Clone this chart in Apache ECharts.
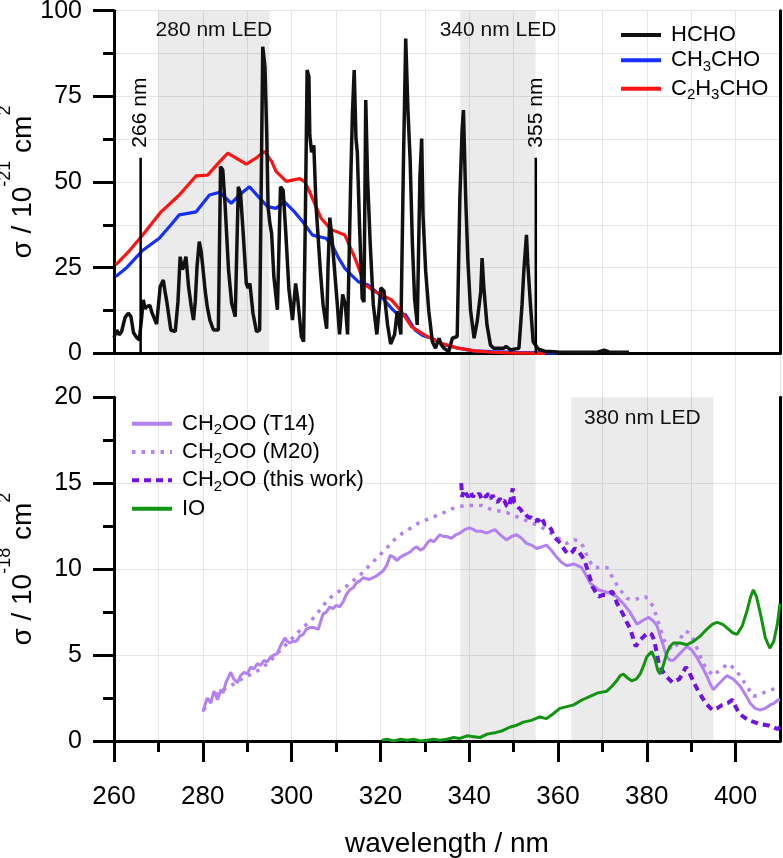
<!DOCTYPE html>
<html><head><meta charset="utf-8">
<script src="https://cdn.jsdelivr.net/npm/echarts@6/dist/echarts.min.js"></script>
<style>html,body{margin:0;padding:0;background:#fff}#c{width:783px;height:858px}</style>
</head><body><div id="c"></div>
<script>
// ---------- DATA ----------
const hcho = [[260.0,4.6],[260.6,6.8],[261.2,5.4],[261.7,6.3],[262.5,10.5],[263.2,11.7],[263.8,10.8],[264.4,6.0],[265.1,4.6],[265.7,3.9],[266.2,10],[266.6,15.6],[267.0,13.0],[267.4,13.6],[268.1,14.0],[268.5,12.0],[268.9,11.7],[269.6,8.5],[270.4,19.4],[271.1,21.4],[271.5,18],[271.9,15.0],[272.8,6.8],[273.8,6.3],[274.4,15],[274.9,28.2],[275.4,24.5],[275.7,25.3],[276.2,28.2],[276.8,19.4],[277.4,13.6],[277.9,9.7],[278.3,15],[278.7,25.3],[279.2,32.6],[279.6,30],[280.0,25.3],[280.5,18.6],[281.0,13.6],[281.6,9.7],[282.4,6.8],[283.5,6.8],[284.0,54.5],[284.5,53.5],[285.0,43.8],[285.4,34],[285.8,24.3],[286.5,14.6],[287.3,10.7],[288.0,48.6],[288.5,46.7],[289.1,35.0],[289.8,20.4],[290.2,19],[290.6,20.4],[291.3,11.7],[292.1,6.3],[292.8,6.8],[293.5,89.5],[294.0,83.6],[294.4,64.2],[294.7,42.8],[295.1,38],[295.5,35.0],[296.0,22.4],[296.8,12.7],[297.5,48.6],[298.1,47.6],[298.7,35.0],[299.4,18.6],[300.2,9.7],[300.9,20.4],[301.4,15.6],[302.2,4.9],[302.7,3.4],[303.1,40],[303.5,82.7],[303.9,80.7],[304.1,63.6],[304.5,58.7],[305.0,60.7],[305.5,43.2],[306.0,33.4],[306.5,23.7],[307.1,14.0],[307.9,7.2],[308.2,25],[308.6,39.6],[309.1,33.6],[309.7,23.9],[310.3,14.2],[310.8,5.5],[311.5,17.2],[312.1,14.2],[312.6,5.5],[313.3,49.6],[313.7,70],[314.1,82.7],[314.5,62.7],[314.8,58.7],[315.3,37.3],[315.9,16.0],[316.3,15.0],[316.7,73.9],[317.1,51.5],[317.7,32.1],[318.4,14.2],[319.2,5.5],[320.1,19.1],[320.8,18.2],[321.6,8.5],[322.3,2.7],[323.2,5.5],[323.8,12.3],[324.6,5.5],[325.2,56.4],[325.7,91.9],[326.2,71.0],[326.7,56.4],[327.2,32.1],[327.7,16.0],[328.3,8.3],[328.9,51.5],[329.3,62.7],[329.6,40.3],[330.2,23.9],[330.9,12.3],[331.7,3.4],[332.4,1.5],[333.2,4.4],[333.7,2.5],[334.3,1.5],[335.4,0.5],[336.2,4.4],[337.3,4.9],[337.9,45.7],[338.4,65],[338.7,71.0],[339.2,45.7],[339.7,27.2],[340.3,12.6],[341.1,4.4],[341.8,9.3],[342.6,18.0],[342.9,27.8],[343.3,19.1],[344.0,8.3],[344.8,2.4],[345.5,1.5],[347.8,1.5],[348.3,2.0],[349.3,1.0],[351.2,1.5],[351.9,14.2],[352.3,24.0],[352.9,34.6],[353.2,26.1],[353.8,14.2],[354.4,3.4],[355.6,1.2],[357,0.6],[360,0.4],[365,0.3],[369,0.4],[370.4,0.9],[371.5,0.4],[376,0.3]];

const ch3cho = [[260.4,22.4],[262.7,24.8],[266.5,30.1],[270.2,33.6],[272.5,37],[274.7,40.4],[278.5,41.3],[281.5,46.2],[283.8,47.0],[286.4,43.8],[288.5,46.5],[290.5,48.6],[292.8,45.3],[294.6,42.8],[296.5,42.3],[298.4,44.2],[300.5,41.5],[302.5,38.4],[304.7,34.5],[307.7,33.6],[309.2,31.5],[310.5,28],[312.0,24.8],[313.5,22.8],[315.0,20.9],[317.3,19.9],[319.9,17.0],[322.5,13.1],[324.4,10.7],[325.6,11.4],[327.8,6.8],[329.5,5.2],[331.5,4.4],[334,2.6],[337.5,1.5],[341,0.7],[345,0.5],[350,0.3],[355,0.2],[360,0.1]];

const c2h3cho = [[260.4,25.8],[263.5,30],[266.5,34.6],[270.6,41.3],[274.7,46.2],[278.5,51.8],[281.1,52.0],[283.5,55.5],[285.6,58.4],[287.5,57],[289.8,55.2],[292,57],[293.9,58.9],[295.5,56],[296.5,53.1],[298.8,50.2],[301.8,51.0],[303,50],[304.0,47.3],[306.6,39.5],[308.9,36.1],[310.5,35.3],[312.0,34.5],[314.3,27.7],[316.5,20.0],[318.8,18.0],[322.5,15.6],[324.8,12.1],[327.0,7.8],[330.0,5.3],[333.8,2.9],[337.5,1.5],[341.3,0.7],[345,0.3],[348.8,0.1],[357.1,0.0]];

const laserLines = [266, 355];
const laserHeight = 57.1;

const t14 = [[280.0,1.7],[280.5,2.1],[281.0,2.5],[281.8,2.2],[282.5,2.9],[283.3,2.4],[284.1,3.0],[284.6,2.8],[285.2,3.4],[286.3,4.0],[287.0,3.6],[287.8,3.4],[288.5,3.8],[289.3,4.0],[290.0,3.9],[290.8,4.3],[291.5,4.2],[292.3,4.5],[293.0,4.4],[293.8,4.7],[294.5,4.6],[295.3,4.9],[296.0,5.0],[296.8,5.1],[297.6,5.6],[298.5,6.0],[299.0,5.8],[299.6,5.7],[300.3,5.8],[301.1,5.8],[301.8,6.1],[302.6,6.2],[303.3,6.5],[304.1,6.6],[305.0,6.6],[306.0,6.5],[306.6,7.0],[307.1,7.4],[307.8,7.5],[308.6,7.8],[309.3,7.7],[310.1,7.9],[310.8,7.8],[311.6,8.1],[312.3,8.5],[313.1,8.8],[313.8,8.9],[314.6,9.2],[315.3,9.3],[316.1,9.5],[317.5,9.4],[319.1,9.6],[320.6,9.9],[321.4,10.2],[322.2,10.8],[323.0,10.7],[323.7,10.5],[324.5,10.7],[325.2,10.8],[326.0,10.9],[326.7,11.0],[327.5,11.2],[328.2,11.3],[329.0,11.1],[329.7,11.2],[330.5,11.5],[331.2,11.7],[332.0,11.6],[332.7,11.8],[333.4,12.0],[334.2,11.9],[334.9,11.9],[336.0,11.8],[337.0,12.0],[337.9,12.1],[339.0,12.3],[340.1,12.4],[341.0,12.3],[341.6,12.2],[342.8,12.2],[343.9,12.1],[344.8,12.2],[345.8,12.3],[347.0,12.0],[348.4,11.7],[349.5,11.9],[350.7,12.0],[351.8,11.8],[352.9,11.5],[354.0,11.4],[355.2,11.2],[356.3,11.3],[357.4,11.4],[358.5,11.1],[359.7,10.7],[360.8,10.4],[362.0,10.2],[363.5,10.3],[365.3,10.1],[366.2,9.7],[367.2,9.2],[368.2,9.0],[369.1,8.8],[370.4,8.7],[371.7,8.6],[373.2,8.4],[374.7,8.0],[376.2,7.5],[377.8,6.8],[379.0,7.0],[380.4,7.2],[381.4,7.0],[382.3,6.7],[383.4,5.8],[384.5,4.9],[385.2,4.7],[386.0,4.7],[387.5,5.1],[389.0,5.5],[390.1,5.3],[391.2,4.9],[392.3,4.4],[393.5,3.8],[394.3,3.3],[395.0,3.0],[396.5,3.4],[398.0,3.8],[399.5,3.6],[401.0,3.2],[402.2,2.7],[403.3,2.2],[404.4,1.9],[405.5,1.8],[406.7,1.9],[407.8,2.1],[408.7,2.2],[409.6,2.4],[410,2.4]];

const m20 = [[280.2,1.8],[282,2.5],[284,2.9],[285.5,3.1],[287.5,3.4],[289.3,3.7],[291,3.9],[293.1,4.2],[295,4.6],[296.8,5.1],[298.7,5.6],[300.6,6.1],[302.5,6.6],[304.4,7.0],[306.3,7.6],[308.1,8.2],[310,8.6],[311.9,8.9],[313.7,9.3],[315.6,9.7],[317.5,10.2],[319.4,10.7],[321.3,11.2],[323.1,11.7],[325,12.1],[326.9,12.4],[328.7,12.7],[330.6,12.9],[332.5,13.1],[334.4,13.3],[336,13.5],[337.2,13.6],[339,13.7],[341.0,13.7],[342.9,13.7],[344.7,13.5],[346.5,13.4],[348.4,13.3],[350.3,13.1],[352.2,12.9],[354,12.7],[355.9,12.5],[357.8,12.2],[359.7,11.9],[361,11.6],[362.0,11.5],[363.8,11.7],[365.0,11.6],[365.7,11.3],[366.8,10.6],[368.0,10.1],[369.5,10.1],[371.0,10.1],[372.1,9.6],[373.2,9.1],[374.3,8.7],[375.5,8.3],[376.9,8.2],[378.2,8.3],[379.6,8.4],[380.5,8.2],[381.5,7.8],[382.6,6.9],[383.8,5.9],[384.9,5.5],[386.0,5.3],[387.2,5.8],[388.6,6.4],[389.5,6.3],[390.5,5.9],[391.6,5.2],[392.7,4.5],[393.8,4.1],[395.0,3.8],[396.7,4.2],[398.4,4.5],[399.7,4.2],[401.0,3.8],[402.5,3.2],[404.0,2.6],[405.5,2.7],[407.0,2.9],[408.3,3.0],[409.6,3.1],[410,3.1]];

const thisWork = [[338.2,15.0],[338.4,14.2],[338.8,14.6],[339.3,14.4],[339.8,14.2],[340.3,14.5],[340.8,14.2],[341.3,14.4],[341.8,14.3],[342.3,14.4],[342.8,14.1],[343.3,14.3],[343.8,14.2],[344.3,14.4],[344.8,14.1],[345.3,14.3],[345.8,14.0],[346.4,13.9],[346.9,14.1],[347.4,13.9],[347.9,14.0],[348.4,13.7],[349.0,13.6],[349.4,14.2],[349.8,14.7],[350.1,13.9],[350.5,13.8],[351.0,13.6],[351.5,13.5],[352.0,13.3],[352.5,13.3],[353.0,13.1],[353.5,13.0],[354.0,13.0],[354.5,12.8],[355.0,12.8],[355.5,12.9],[356.0,12.7],[356.5,12.9],[357.0,12.6],[357.5,12.6],[358.0,12.5],[358.5,12.3],[359.1,11.9],[359.8,11.7],[360.6,11.5],[361.3,11.2],[362.1,10.9],[362.6,10.9],[363.2,11.0],[363.8,11.2],[364.4,11.1],[365.0,10.9],[365.5,10.7],[366.1,10.4],[366.6,10.0],[367.2,9.5],[367.7,9.0],[368.4,8.7],[369.2,8.4],[370.0,8.5],[370.7,8.5],[371.5,8.6],[372.2,8.7],[372.8,8.4],[373.3,8.0],[374.0,7.7],[374.8,7.3],[375.5,6.9],[376.3,6.5],[376.9,6.0],[377.5,5.5],[378.2,5.8],[379.0,6.0],[379.8,6.2],[380.5,6.3],[381.1,6.2],[381.6,5.9],[382.2,5.2],[382.7,4.5],[383.5,4.1],[384.3,3.8],[385.0,3.6],[385.8,3.4],[386.5,3.5],[387.3,3.6],[388.0,3.9],[388.8,4.3],[389.4,4.1],[389.9,3.8],[390.6,3.4],[391.4,3.0],[392.3,2.6],[393.3,2.2],[394.0,2.0],[394.8,1.8],[395.8,1.9],[397.0,2.1],[398.2,2.2],[399.3,2.4],[400.0,2.0],[400.8,1.6],[401.8,1.4],[403.0,1.2],[404.2,1.1],[405.3,1.0],[406.4,0.95],[407.5,0.9],[408.5,0.8],[409.4,0.7],[410,0.8]];

const io = [[320.3,0.05],[321.5,0.1],[323,0.0],[324.5,0.1],[326,0.05],[327.5,0.1],[329,0.0],[330.5,0.05],[332,0.1],[333.4,0.05],[335,0.1],[336.5,0.2],[337.9,0.15],[339.5,0.3],[341,0.25],[342.4,0.2],[344,0.4],[346.1,0.5],[347.5,0.6],[349.1,0.8],[350.5,0.9],[352.2,1.1],[354,1.2],[355.9,1.4],[357.4,1.3],[359,1.6],[360.4,1.9],[362,2.0],[363.5,2.1],[365.5,2.4],[367.2,2.6],[369,2.8],[371.0,2.9],[372.2,3.2],[373.2,3.5],[374.0,3.8],[374.7,3.9],[375.5,3.7],[376.6,3.5],[377.6,3.6],[378.5,3.9],[379.3,4.4],[380.0,4.9],[381.1,5.2],[381.8,4.8],[382.5,4.1],[383.0,3.9],[383.6,4.3],[384.5,5.1],[385.2,5.5],[386.0,5.7],[387.5,5.7],[389.0,5.6],[390.5,5.8],[392.0,6.1],[393.5,6.5],[394.8,6.8],[395.8,6.9],[397.0,6.8],[398.0,6.6],[399.3,6.3],[400.3,6.2],[401.5,6.7],[402.6,7.6],[403.4,8.4],[404.0,8.8],[404.7,8.4],[405.6,7.4],[406.7,6.0],[407.7,5.4],[408.6,5.8],[409.4,6.8],[410,8.0]];

const bandTop = [[270, 295, '280 nm LED']];
const bandFull = [[338, 355, '340 nm LED']];
const bandBottom = [[363, 395, '380 nm LED']];

const xMajorTicks = [260, 280, 300, 320, 340, 360, 380, 400];
const xMinorTicks = [270, 290, 310, 330, 350, 370, 390];
const yTopTicks = [0, 25, 50, 75, 100];
const yBottomTicks = [0, 5, 10, 15, 20];

// ---------- STYLE ----------
const FONT = 'Liberation Sans, Arial, Helvetica, sans-serif';
const GRID = '#e6e6e6';
const BAND = 'rgba(0,0,0,0.078)';
const L = 114, R = 3;

const legendLabels = {
  'HCHO': '{f|HCHO}',
  'CH3CHO': '{f|CH}{s|3}{n|CHO}',
  'C2H3CHO': '{f|C}{s|2}{n|H}{s|3}{n|CHO}',
  'T14': '{f|CH}{s|2}{n|OO (T14)}',
  'M20': '{f|CH}{s|2}{n|OO (M20)}',
  'thiswork': '{f|CH}{s|2}{n|OO (this work)}',
  'IO': '{f|IO}'
};
const richLegend = {
  f: {fontSize: 22, lineHeight: 28, fontFamily: FONT, color: '#000', padding: [0, 0, 0, 5]},
  n: {fontSize: 22, lineHeight: 28, fontFamily: FONT, color: '#000'},
  s: {fontSize: 15, lineHeight: 14, verticalAlign: 'bottom', fontFamily: FONT, color: '#000'}
};
function legend(name, left, top) {
  return {data: [name], left: left, top: top, orient: 'vertical', padding: 0,
    itemWidth: 40, itemHeight: 14, itemGap: 0, selectedMode: false,
    itemStyle: {opacity: 0, borderWidth: 0},
    lineStyle: {width: 4},
    formatter: n => legendLabels[n], textStyle: {rich: richLegend}};
}
const richName = {
  a: {fontSize: 28, lineHeight: 54, fontFamily: FONT, color: '#000'},
  p: {fontSize: 18, lineHeight: 20, verticalAlign: 'top', fontFamily: FONT, color: '#000'}
};
const axisBlack = {show: true, lineStyle: {color: '#000', width: 3}};

function bandArea(bands, dist) {
  return {silent: true, itemStyle: {color: BAND},
    label: {show: true, position: 'insideTop', distance: dist, fontSize: 21, fontFamily: FONT, color: '#111'},
    data: bands.map(b => [{xAxis: b[0], name: b[2]}, {xAxis: b[1]}])};
}
function lineSeries(name, data, xi, yi, color, width, type, z) {
  return {name: name, type: 'line', data: data, xAxisIndex: xi, yAxisIndex: yi,
    symbol: 'none', smooth: false, z: z,
    lineStyle: {color: color, width: width, type: type || 'solid'}, itemStyle: {color: color}};
}
function laserSeries(nm) {
  return {type: 'line', xAxisIndex: 1, yAxisIndex: 1, z: 6,
    symbol: 'circle', symbolSize: 0, showSymbol: true,
    lineStyle: {color: '#000', width: 2.5}, itemStyle: {color: '#000'},
    data: [[nm, 0], {value: [nm, laserHeight], label: {show: true, position: 'top', distance: 10,
      rotate: 90, align: 'left', verticalAlign: 'middle', formatter: nm + ' nm',
      fontSize: 21, fontFamily: FONT, color: '#000'}}]};
}
const gridBase = {left: L, right: R, containLabel: false, outerBoundsMode: 'none'};

const option = {
  animation: false,
  backgroundColor: '#fff',
  grid: [
    Object.assign({top: 10.7, bottom: 117}, gridBase),
    Object.assign({top: 10.7, height: 342.6}, gridBase),
    Object.assign({top: 397.3, height: 343.7}, gridBase)
  ],
  xAxis: [
    {gridIndex: 0, type: 'value', min: 260, max: 410, interval: 10,
      axisLine: {show: false}, axisTick: {show: false}, axisLabel: {show: false},
      splitLine: {show: true, lineStyle: {color: GRID, width: 1}}},
    {gridIndex: 1, type: 'value', min: 260, max: 410, interval: 10, position: 'top',
      axisLine: axisBlack, axisTick: {show: false}, axisLabel: {show: false}, splitLine: {show: false}},
    {gridIndex: 2, type: 'value', min: 260, max: 410, interval: 20, position: 'bottom',
      axisLine: axisBlack,
      axisTick: {show: true, inside: false, length: 21, lineStyle: {color: '#000', width: 3}, customValues: xMajorTicks},
      axisLabel: {show: true, margin: 43, fontSize: 26, fontFamily: FONT, color: '#000', customValues: xMajorTicks},
      splitLine: {show: false},
      name: 'wavelength / nm', nameLocation: 'middle', nameGap: 89, nameMoveOverlap: false,
      nameTextStyle: {fontSize: 28, fontFamily: FONT, color: '#000'}},
    {gridIndex: 2, type: 'value', min: 260, max: 410, interval: 10, position: 'bottom',
      axisLine: {show: false},
      axisTick: {show: true, inside: false, length: 11, lineStyle: {color: '#000', width: 3}, customValues: xMinorTicks},
      axisLabel: {show: false}, splitLine: {show: false}}
  ],
  yAxis: [
    {gridIndex: 0, type: 'value', min: 0, max: 1, show: false},
    {gridIndex: 1, type: 'value', min: yTopTicks[0], max: yTopTicks[yTopTicks.length - 1], interval: 25, position: 'left',
      axisLine: axisBlack,
      axisTick: {show: true, inside: false, length: 21, lineStyle: {color: '#000', width: 3}},
      minorTick: {show: true, splitNumber: 2, length: 11, lineStyle: {color: '#000', width: 3}},
      axisLabel: {margin: 32, fontSize: 25, fontFamily: FONT, color: '#000'},
      splitLine: {show: true, lineStyle: {color: GRID, width: 1}},
      minorSplitLine: {show: true, lineStyle: {color: GRID, width: 1}},
      name: '{a|σ / 10}{p|-21}{a| cm}{p|2}', nameLocation: 'middle', nameRotate: 90, nameGap: 64,
      nameMoveOverlap: false, nameTextStyle: {rich: richName}},
    {gridIndex: 1, type: 'value', min: 0, max: 100, position: 'right',
      axisLine: axisBlack, axisTick: {show: false}, axisLabel: {show: false}, splitLine: {show: false}},
    {gridIndex: 2, type: 'value', min: yBottomTicks[0], max: yBottomTicks[yBottomTicks.length - 1], interval: 5, position: 'left',
      axisLine: axisBlack,
      axisTick: {show: true, inside: false, length: 21, lineStyle: {color: '#000', width: 3}},
      minorTick: {show: true, splitNumber: 2, length: 11, lineStyle: {color: '#000', width: 3}},
      axisLabel: {margin: 32, fontSize: 25, fontFamily: FONT, color: '#000'},
      splitLine: {show: true, showMaxLine: false, lineStyle: {color: GRID, width: 1}},
      name: '{a|σ / 10}{p|-18}{a| cm}{p|2}', nameLocation: 'middle', nameRotate: 90, nameGap: 64,
      nameMoveOverlap: false, nameTextStyle: {rich: richName}},
    {gridIndex: 2, type: 'value', min: 0, max: 20, position: 'right',
      axisLine: axisBlack, axisTick: {show: false}, axisLabel: {show: false}, splitLine: {show: false}}
  ],
  legend: [
    legend('HCHO', 619, 24), legend('CH3CHO', 619, 49.3), legend('C2H3CHO', 619, 77.7),
    legend('T14', 130, 412.7), legend('M20', 130, 441), legend('thiswork', 130, 469.3), legend('IO', 130, 497.7)
  ],
  series: [
    {type: 'line', xAxisIndex: 0, yAxisIndex: 0, data: [], symbol: 'none', markArea: bandArea(bandFull, 9)},
    {type: 'line', xAxisIndex: 1, yAxisIndex: 1, data: [], symbol: 'none', markArea: bandArea(bandTop, 9)},
    {type: 'line', xAxisIndex: 2, yAxisIndex: 3, data: [], symbol: 'none', markArea: bandArea(bandBottom, 10)},
    lineSeries('CH3CHO', ch3cho, 1, 1, '#1530ff', 3.2, 'solid', 3),
    lineSeries('C2H3CHO', c2h3cho, 1, 1, '#ff1414', 3.2, 'solid', 3),
    lineSeries('HCHO', hcho, 1, 1, '#111111', 3.5, 'solid', 4),
    laserSeries(laserLines[0]),
    laserSeries(laserLines[1]),
    lineSeries('T14', t14, 2, 3, '#b381f2', 3, 'solid', 3),
    lineSeries('M20', m20, 2, 3, '#b381f2', 3.5, [3.5, 6], 3),
    lineSeries('thiswork', thisWork, 2, 3, '#7012e6', 4, [7, 5], 4),
    lineSeries('IO', io, 2, 3, '#129412', 3, 'solid', 5)
  ]
};
const chart = echarts.init(document.getElementById('c'), null, {renderer: 'canvas'});
chart.setOption(option);
</script></body></html>
